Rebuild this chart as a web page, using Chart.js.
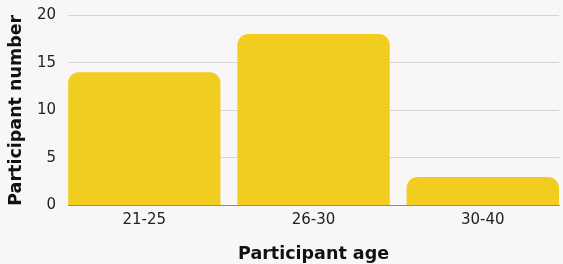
<!DOCTYPE html>
<html><head><meta charset="utf-8">
<script src="https://cdn.jsdelivr.net/npm/chart.js@4"></script>
<style>html,body{margin:0;padding:0;background:#f8f6f7;}#wrap{width:563px;height:264px;}</style>
</head><body><div id="wrap"><canvas id="c"></canvas></div>
<script>
const categories = ['21-25', '26-30', '30-40'];
const participants = [14, 18, 3];
const yTicks = [0, 5, 10, 15, 20];
const FONT = "'DejaVu Sans', sans-serif";
new Chart(document.getElementById('c'), {
  type: 'bar',
  data: { datasets: [{ data: participants.map((v, i) => ({ x: i, y: v })), backgroundColor: '#f0cd1e', borderRadius: {topLeft: 11, topRight: 11}, borderSkipped: 'bottom', barPercentage: 0.9, categoryPercentage: 1 }] },
  options: {
    responsive: true, maintainAspectRatio: false, animation: false,
    layout: { padding: { top: 0, right: 4, left: 7.5, bottom: 1 } },
    plugins: { legend: { display: false }, tooltip: { enabled: false } },
    scales: {
      x: {
        type: 'linear', min: -0.45, max: 2.45, offset: false,
        afterBuildTicks: (ax) => { ax.ticks = categories.map((c, i) => ({ value: i })); },
        grid: { display: false, drawTicks: false, tickLength: 0 },
        border: { display: true, color: '#8e8b8d', width: 1 },
        ticks: { color: '#222', font: { family: FONT, size: 15 }, padding: 6, callback: (v) => categories[v] },
        title: { display: true, text: 'Participant age', color: '#111', font: { family: FONT, size: 17.5, weight: 'bold', lineHeight: 1 }, padding: { top: 10, bottom: 0 } }
      },
      y: {
        min: 0, max: 20,
        afterBuildTicks: (ax) => { ax.ticks = yTicks.map(v => ({ value: v })); },
        afterFit: (s) => { s.paddingTop = 15; },
        grid: { color: '#d8d5d7', lineWidth: 1, drawTicks: false },
        border: { display: false },
        ticks: { color: '#222', font: { family: FONT, size: 15 }, padding: 12 },
        title: { display: true, text: 'Participant number', color: '#111', font: { family: FONT, size: 17.5, weight: 'bold', lineHeight: 1 }, padding: { top: 0, bottom: 0 } }
      }
    }
  }
});
</script></body></html>
